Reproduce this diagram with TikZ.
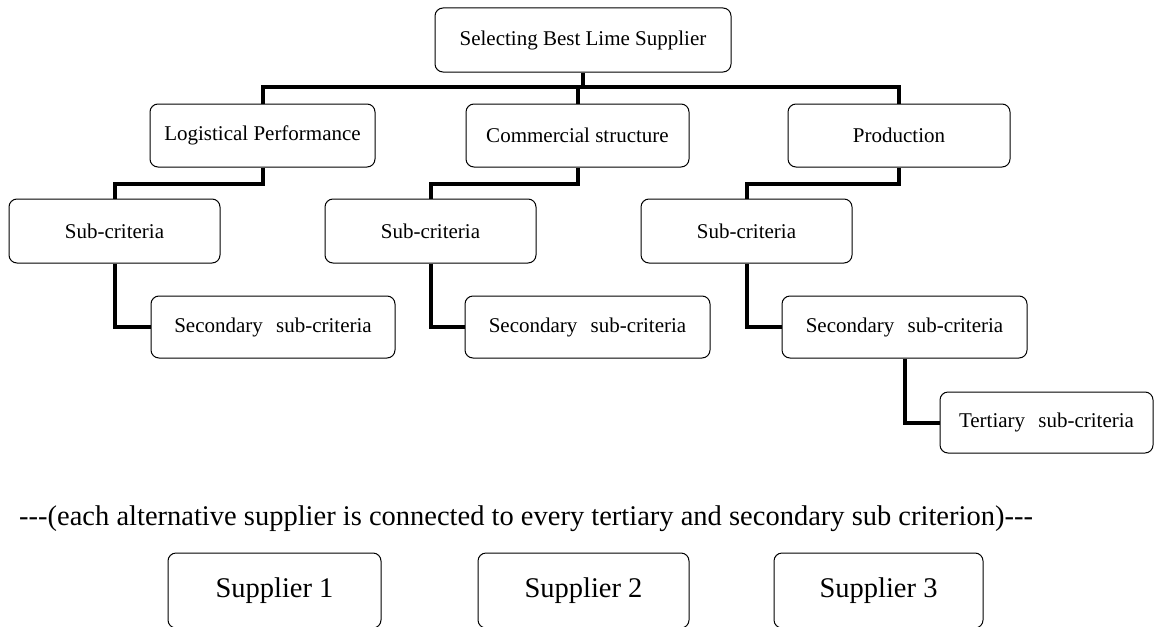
\documentclass[tikz,border=0pt]{standalone}
\usepackage{fontspec}
\setmainfont{Liberation Serif}
\begin{document}
\begin{tikzpicture}[x=1pt,y=-1pt,
  box/.style={draw=black, line width=1pt, rounded corners=8pt, inner sep=0pt, align=center, fill=white, font=\fontsize{21}{25}\selectfont},
  conn/.style={draw=black, line width=4pt},
  supbox/.style={box, font=\fontsize{28.5}{34}\selectfont},
  note/.style={font=\fontsize{28.5}{34}\selectfont, inner sep=0pt}]
\useasboundingbox (0,0) rectangle (1155,626);
\clip (0,0) rectangle (1155,626);
\fill[white] (0,0) rectangle (1155,626);

% connectors first (boxes drawn on top)
\node[box, minimum width=296pt, minimum height=64pt] (top) at (583,40) {Selecting Best Lime Supplier};
\node[box, minimum width=225pt, minimum height=63pt] (log) at (262.5,135.5) {Logistical Performance};
\node[box, minimum width=223pt, minimum height=63pt] (com) at (577.5,135.5) {Commercial structure};
\node[box, minimum width=222pt, minimum height=63pt] (pro) at (899,135.5) {Production};

\node[box, minimum width=211pt, minimum height=64pt] (subL) at (114.5,231) {Sub-criteria};
\node[box, minimum width=211pt, minimum height=64pt] (subM) at (430.5,231) {Sub-criteria};
\node[box, minimum width=211pt, minimum height=64pt] (subR) at (746.5,231) {Sub-criteria};

\node[box, minimum width=244pt, minimum height=62pt] (secL) at (273,327) {Secondary\hspace{8pt} sub-criteria};
\node[box, minimum width=245pt, minimum height=62pt] (secM) at (587.5,327) {Secondary\hspace{8pt} sub-criteria};
\node[box, minimum width=245pt, minimum height=62pt] (secR) at (904.5,327) {Secondary\hspace{8pt} sub-criteria};

\node[box, minimum width=213pt, minimum height=61pt] (ter) at (1046.5,422.5) {Tertiary\hspace{8pt} sub-criteria};

\coordinate (j0) at (583,87);
\draw[conn] (top.south) -- (j0);
\draw[conn] (log.north) |- (j0) -| (pro.north);
\draw[conn] (com.north) -- (com.north |- j0);

\draw[conn] (log.south) -- ++(0,16) -| (subL.north);
\draw[conn] (com.south) -- ++(0,16) -| (subM.north);
\draw[conn] (pro.south) -- ++(0,16) -| (subR.north);

\draw[conn] (subL.south) |- (secL.west);
\draw[conn] (subM.south) |- (secM.west);
\draw[conn] (subR.south) |- (secR.west);
\draw[conn] (secR.south) |- (ter.west);

\node[note, anchor=base west] (note) at (19,525) {-{}-{}-(each alternative supplier is connected to every tertiary and secondary sub criterion)-{}-{}-};

\node[supbox, minimum width=213pt, minimum height=75pt] (s1) at (274.5,590.5) {Supplier 1};
\node[supbox, minimum width=211pt, minimum height=75pt] (s2) at (583.5,590.5) {Supplier 2};
\node[supbox, minimum width=209pt, minimum height=75pt] (s3) at (878.5,590.5) {Supplier 3};
\end{tikzpicture}
\end{document}
